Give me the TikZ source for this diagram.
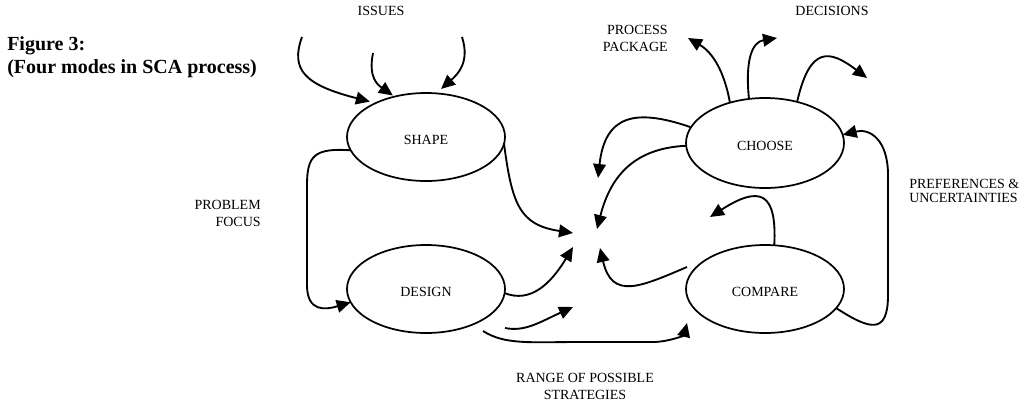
\documentclass[tikz,border=0pt]{standalone}
\usepackage{fontspec}
\setmainfont{Liberation Serif}
\usepackage{tikz}
\usetikzlibrary{arrows.meta}
\usetikzlibrary{shapes}

\tikzset{
  mode/.style={draw, ellipse, line width=1.3pt, minimum width=118.5pt, minimum height=66pt, inner sep=0pt, outer sep=0pt, text height=11.5pt, font=\fontsize{10.5}{12.75}\selectfont},
  flow/.style={line width=1.4pt, -{Triangle[length=10.5pt,width=9.5pt]}},
  lbl/.style={inner sep=0pt, font=\fontsize{10.5}{12.75}\selectfont},
}

\begin{document}
\begin{tikzpicture}[x=0.75pt,y=0.75pt,yscale=-1,xscale=1]
\path[use as bounding box] (0,0) rectangle (1027,404);

%Shape: Ellipse
\node[mode] (shape) at (426,137) {SHAPE};
%Shape: Ellipse
\node[mode] (design) at (426,289) {DESIGN};
%Shape: Ellipse
\node[mode, minimum height=67.5pt] (choose) at (765,143) {CHOOSE};
%Shape: Ellipse
\node[mode] (compare) at (765,289) {COMPARE};

% free ends
\coordinate (issA) at (302,37);
\coordinate (issB) at (373,53);
\coordinate (issC) at (462,37);
\coordinate (hubA) at (573,233);
\coordinate (hubB) at (598,178);
\coordinate (hubC) at (597,229);
\coordinate (hubD) at (573,247);
\coordinate (hubE) at (600,248);
\coordinate (hubF) at (573,307);
\coordinate (hubG) at (710,217);
\coordinate (dsnA) at (505,328);
\coordinate (dsnB) at (483,331);
\coordinate (cmpA) at (687,323);
\coordinate (cmpB) at (687,267);
\coordinate (outA) at (688,38);
\coordinate (outB) at (777,38);
\coordinate (outC) at (867,78);

%Curve Lines (issues)
\draw [flow, shorten >=4.5pt] (issA) .. controls (290,70) and (305,85) .. (shape.146);
\draw [flow, shorten >=1.5pt] (issB) .. controls (368,78) and (378,85) .. (shape.128);
\draw [flow, shorten >=5pt] (issC) .. controls (470,62) and (458,74) .. (shape.77);
%Curve Lines (problem focus)
\draw [flow] (shape.190) .. controls (315,148) and (307,155) .. (307,185) -- (307,285) .. controls (307,312) and (325,310) .. (design.190);
%Curve Lines
\draw [flow] (shape.355) .. controls (512,205) and (520,225) .. (hubA);
\draw [flow] (design.-3) .. controls (530,303) and (550,285) .. (hubD);
\draw [flow] (dsnA) .. controls (525,332) and (540,322) .. (hubF);
%Curve Lines (range of possible strategies)
\draw [flow] (dsnB) .. controls (505,345) and (530,342) .. (580,342) -- (655,342) .. controls (672,341) and (684,335) .. (cmpA);
%Curve Lines
\draw [flow] (cmpB) .. controls (640,287) and (612,300) .. (hubE);
\draw [flow] (compare.78) .. controls (777,192) and (760,185) .. (hubG);
\draw [flow] (choose.168) .. controls (635,108) and (605,115) .. (hubB);
\draw [flow] (choose.182) .. controls (640,148) and (612,170) .. (hubC);
%Curve Lines (process package, decisions)
\draw [flow] (choose.131) .. controls (724,70) and (712,52) .. (outA);
\draw [flow] (choose.110) .. controls (745,60) and (752,42) .. (outB);
\draw [flow] (choose.52) .. controls (810,45) and (830,50) .. (outC);
%Curve Lines (preferences)
\draw [flow] (compare.345) .. controls (870,330) and (888,335) .. (888,295) -- (888,175) .. controls (888,140) and (870,128) .. (choose.6);

% Text Node
\node [anchor=north west, inner sep=0pt, align=left, font=\bfseries\fontsize{15}{17.25}\selectfont] (title) at (7,36) {Figure 3:\\(Four modes in SCA process)};
% Text Node
\node [lbl, anchor=base] (issues) at (381,15) {ISSUES};
% Text Node
\node [lbl, anchor=base] (decisions) at (832,15) {DECISIONS};
% Text Node
\node [lbl, anchor=east, align=right] (package) at (668,38) {PROCESS\\PACKAGE};
% Text Node
\node [lbl, anchor=east, align=right] (focus) at (261,213.5) {PROBLEM\\FOCUS};
% Text Node
\node [lbl, anchor=west, align=left, font=\fontsize{10.5}{11}\selectfont] (prefs) at (909,191) {PREFERENCES \&\\UNCERTAINTIES};
% Text Node
\node [lbl, align=center] (range) at (585,386.5) {RANGE OF POSSIBLE\\STRATEGIES};

\end{tikzpicture}
\end{document}
